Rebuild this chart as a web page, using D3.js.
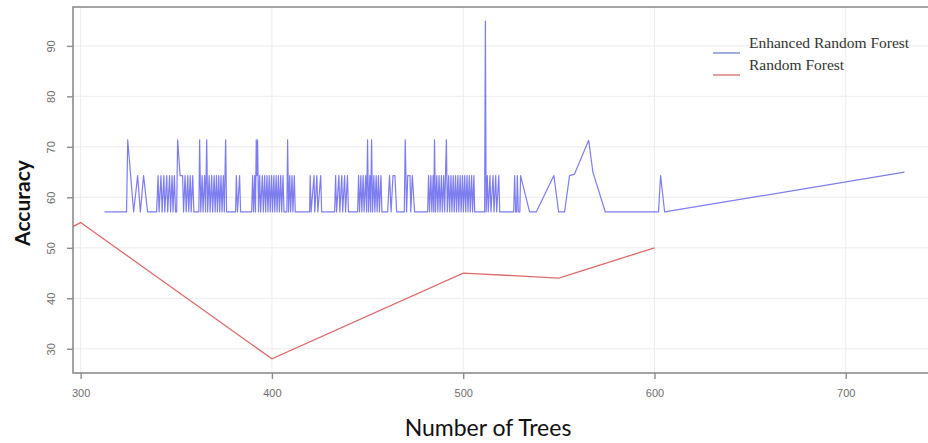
<!DOCTYPE html>
<html>
<head>
<meta charset="utf-8">
<script src="https://cdn.jsdelivr.net/npm/d3@7"></script>
<style>
  body { margin: 0; background: #fff; }
  svg { display: block; }
</style>
</head>
<body>
<div id="chart"></div>
<script>
// tick values
var xTicks = [300, 400, 500, 600, 700];
var yTicks = [30, 40, 50, 60, 70, 80, 90];

// Random Forest
var rfTrees = [296, 300, 400, 500, 505, 550, 600];
var rfAccuracy = [54.2, 55, 28, 45, 44.9, 44, 50];

// Enhanced Random Forest  [trees, accuracy]
var erfPoints = [
  [312.5,57.1],[324,57.1],[324.6,71.4],[327.7,57.1],[329.8,64.3],[331.2,57.1],[332.9,64.3],[335,57.1],[339.7,57.1],
  [340.5,64.3],[341,57.1],[342,64.3],[342.6,57.1],[343.5,64.3],[344,57.1],[345,64.3],[345.5,57.1],[346.5,64.3],[347,57.1],
  [347.8,64.3],[348.3,57.1],[349,64.3],[349.6,57.1],[350.2,57.1],[350.7,71.4],[352,64.3],[353.3,64.3],[353.8,57.1],
  [354.6,64.3],[355.2,57.1],[356,64.3],[356.5,57.1],[357.3,64.3],[357.8,57.1],[358.6,64.3],[359.2,57.1],[361.8,57.1],
  [362.2,71.4],[362.8,57.1],
  [363.5,64.3],[364,57.1],[364.8,64.3],[365.3,57.1],[365.9,71.4],[366.4,57.1],[367.2,64.3],[367.7,57.1],[368.5,64.3],
  [369,57.1],[369.8,64.3],[370.3,57.1],[371,64.3],[371.5,57.1],[372.2,64.3],[372.7,57.1],[373.4,64.3],[373.9,57.1],
  [374.6,64.3],[375.1,57.1],[375.8,71.4],[376.3,57.1],
  [381,57.1],[381.4,64.3],[382,57.1],[383.1,64.3],[383.6,57.1],[389.4,57.1],
  [389.9,64.3],[390.4,57.1],[391,64.3],[391.4,57.1],[391.8,71.4],[392.2,64.3],[392.5,71.4],[393,57.1],[393.6,64.3],[394.1,57.1],
  [395,64.3],[395.5,57.1],[396.2,64.3],[396.7,57.1],[397.4,64.3],[397.9,57.1],[398.6,64.3],[399.1,57.1],[399.8,64.3],
  [400.3,57.1],[401,64.3],[401.5,57.1],[402.2,64.3],[402.7,57.1],[403.4,64.3],[403.9,57.1],[404.6,64.3],[405.1,57.1],
  [405.8,64.3],[406.3,57.1],[407.8,57.1],[408.2,71.4],[408.7,57.1],
  [409.3,64.3],[409.8,57.1],[410.5,64.3],[411,57.1],[411.7,64.3],[412.2,57.1],[419.7,57.1],
  [420,64.3],[420.5,57.1],[422,64.3],[422.4,57.1],[423.5,64.3],[424,57.1],[425.5,64.3],[426,57.1],[432.8,57.1],
  [433.3,64.3],[433.8,57.1],[435,64.3],[435.5,57.1],[436.5,64.3],[437,57.1],[438,64.3],[438.5,57.1],[439.5,64.3],[440,57.1],[444.8,57.1],
  [445.3,64.3],[445.8,57.1],[446.5,64.3],[447,57.1],[447.7,64.3],[448.2,57.1],[449,64.3],[449.5,57.1],[450,71.4],[450.5,57.1],
  [451.2,64.3],[451.6,57.1],[452.1,71.4],[452.6,57.1],[453.3,64.3],[453.8,57.1],[454.5,64.3],[455,57.1],[455.7,64.3],[456.2,57.1],
  [457,64.3],[457.5,57.1],
  [460.5,57.1],[461.5,64.3],[462.3,57.1],[463.3,64.3],[464.3,64.3],[465.2,57.1],[469.2,57.1],[469.7,71.4],[470.4,57.1],
  [471,64.3],[472.2,64.3],[472.6,57.1],[473.4,64.3],[474.6,57.1],[481.4,57.1],
  [481.9,64.3],[482.4,57.1],[483.1,64.3],[483.6,57.1],[484.3,64.3],[484.6,57.1],[485,71.4],[485.5,57.1],[486.2,64.3],
  [486.7,57.1],[487.4,64.3],[487.9,57.1],[488.6,64.3],
  [489.1,57.1],[489.8,64.3],[490.3,57.1],[491.2,71.4],[491.7,57.1],[492.4,64.3],[492.9,57.1],[493.6,64.3],[494.1,57.1],
  [494.8,64.3],[495.3,57.1],[496,64.3],[496.5,57.1],[497.2,64.3],[497.7,57.1],[498.4,64.3],[498.9,57.1],[499.6,64.3],
  [500.1,57.1],[500.8,64.3],[501.3,57.1],[502,64.3],[502.5,57.1],[503.2,64.3],[503.7,57.1],[504.4,64.3],[504.9,57.1],
  [505.6,64.3],[506,57.1],
  [511.2,57.1],[511.6,94.9],[512,57.1],
  [512.6,64.3],[513.1,57.1],[514,64.3],[514.5,57.1],[515.6,64.3],[516.1,57.1],[517,64.3],[517.5,57.1],[518.6,64.3],
  [519.1,57.1],[525.3,57.1],
  [526.4,57.1],[526.9,64.3],[527.4,57.1],[527.9,57.1],[528.3,64.3],[528.8,57.1],[529.6,57.1],[530,64.3],[534.7,57.1],
  [538.2,57.1],[547.4,64.3],[549.9,57.1],[553,57.1],[555.6,64.3],[558.2,64.6],[565.6,71.3],[567.8,65],[574.3,57.1],
  [602.1,57.1],[603.2,64.3],[605.3,57.1],[730.7,65]
];

var legendLabels = ["Enhanced Random Forest", "Random Forest"];
var legendColors = ["#7f93cf", "#de7f7f"];

var width = 928, height = 443;
var plot = { left: 73, right: 928, top: 7, bottom: 373 };

var svg = d3.select("#chart").append("svg")
    .attr("width", width)
    .attr("height", height);

var x = d3.scaleLinear().domain([296, 743]).range([plot.left, plot.right]);
var y = d3.scaleLinear().domain([25.2, 97.7]).range([plot.bottom, plot.top]);

// grid
svg.append("g").selectAll("line").data(xTicks).enter().append("line")
    .attr("x1", function (d) { return x(d); })
    .attr("x2", function (d) { return x(d); })
    .attr("y1", plot.top).attr("y2", plot.bottom)
    .attr("stroke", "#ececec").attr("stroke-width", 1);
svg.append("g").selectAll("line").data(yTicks).enter().append("line")
    .attr("y1", function (d) { return y(d); })
    .attr("y2", function (d) { return y(d); })
    .attr("x1", plot.left).attr("x2", plot.right)
    .attr("stroke", "#ececec").attr("stroke-width", 1);

svg.append("clipPath").attr("id", "clip")
    .append("rect")
    .attr("x", plot.left).attr("y", plot.top)
    .attr("width", plot.right - plot.left)
    .attr("height", plot.bottom - plot.top);

var line = d3.line()
    .x(function (d) { return x(d[0]); })
    .y(function (d) { return y(d[1]); });

var rfData = rfTrees.map(function (t, i) { return [t, rfAccuracy[i]]; });

svg.append("path")
    .datum(rfData)
    .attr("clip-path", "url(#clip)")
    .attr("fill", "none")
    .attr("stroke", "#e06a6a")
    .attr("stroke-width", 1.3)
    .attr("d", line);

svg.append("path")
    .datum(erfPoints)
    .attr("clip-path", "url(#clip)")
    .attr("fill", "none")
    .attr("stroke", "rgb(70,70,235)")
    .attr("stroke-opacity", 0.7)
    .attr("stroke-width", 1.2)
    .attr("stroke-linejoin", "round")
    .attr("d", line);

// frame
svg.append("rect")
    .attr("x", plot.left).attr("y", plot.top)
    .attr("width", plot.right - plot.left + 4)
    .attr("height", plot.bottom - plot.top)
    .attr("fill", "none")
    .attr("stroke", "#8c8c8c")
    .attr("stroke-width", 1.6);

// axes
var xAxis = svg.append("g")
    .attr("transform", "translate(0," + plot.bottom + ")")
    .call(d3.axisBottom(x).tickValues(xTicks).tickSize(6).tickFormat(d3.format("d")));
xAxis.select(".domain").remove();
xAxis.selectAll("line").attr("stroke", "#8c8c8c").attr("stroke-width", 1.4);
xAxis.selectAll("text")
    .attr("y", 16)
    .attr("fill", "#6e6e6e")
    .style("font-family", "'Liberation Sans', Arial, sans-serif")
    .style("font-size", "11px");

var yAxis = svg.append("g")
    .attr("transform", "translate(" + plot.left + ",0)")
    .call(d3.axisLeft(y).tickValues(yTicks).tickSize(6).tickFormat(d3.format("d")));
yAxis.select(".domain").remove();
yAxis.selectAll("line").attr("stroke", "#8c8c8c").attr("stroke-width", 1.4);
yAxis.selectAll("text")
    .attr("x", 0)
    .attr("y", -18)
    .attr("dy", 0)
    .attr("transform", "rotate(-90)")
    .attr("text-anchor", "middle")
    .attr("fill", "#6e6e6e")
    .style("font-family", "'Liberation Sans', Arial, sans-serif")
    .style("font-size", "11px");

// axis titles
svg.append("text")
    .attr("transform", "translate(30,203) rotate(-90)")
    .attr("text-anchor", "middle")
    .attr("fill", "#111")
    .style("font-family", "Lato, 'Open Sans', sans-serif")
    .style("font-size", "21px")
    .style("font-weight", "bold")
    .text("Accuracy");

svg.append("text")
    .attr("x", 488)
    .attr("y", 436)
    .attr("text-anchor", "middle")
    .attr("fill", "#111")
    .style("font-family", "Lato, 'Open Sans', sans-serif")
    .style("font-size", "23px")
    .text("Number of Trees");

// legend
var legend = svg.append("g").attr("transform", "translate(713,53)");
var item = legend.selectAll("g").data(legendLabels).enter().append("g")
    .attr("transform", function (d, i) { return "translate(0," + (i * 22) + ")"; });
item.append("line")
    .attr("x1", 0).attr("x2", 27)
    .attr("y1", 0).attr("y2", 0)
    .attr("stroke", function (d, i) { return legendColors[i]; })
    .attr("stroke-width", 1.5);
item.append("text")
    .attr("x", 36)
    .attr("y", -5)
    .attr("fill", "#333")
    .style("font-family", "'Liberation Serif', 'Times New Roman', serif")
    .style("font-size", "15.5px")
    .text(function (d) { return d; });
</script>
</body>
</html>
